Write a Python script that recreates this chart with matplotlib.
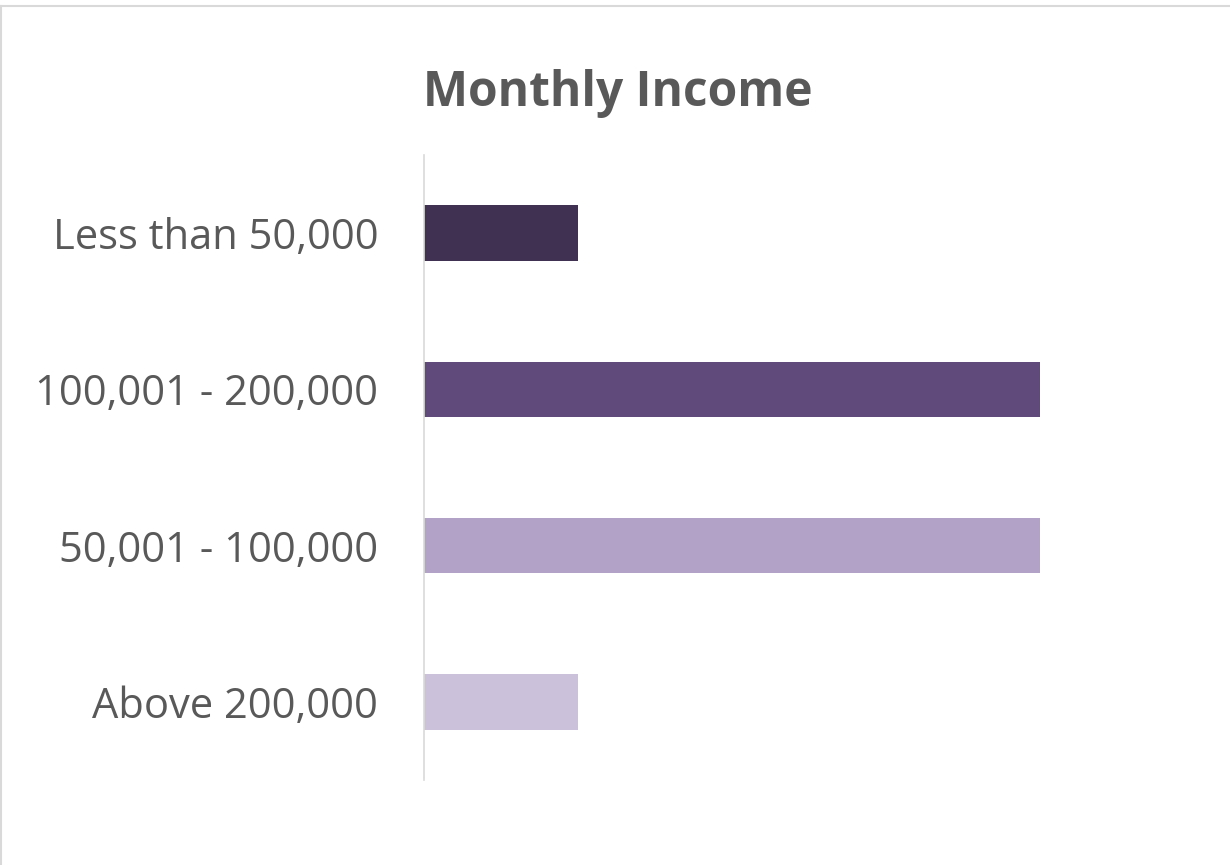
import matplotlib.pyplot as plt
from matplotlib.lines import Line2D

categories = ["Less than 50,000", "100,001 - 200,000", "50,001 - 100,000", "Above 200,000"]
values = [1, 4, 4, 1]
colors = ["#403152", "#604A7B", "#B3A2C7", "#CCC1DA"]

plt.rcParams['font.family'] = ['Open Sans', 'DejaVu Sans']

fig = plt.figure(figsize=(12.3, 8.65), dpi=100)
ax = fig.add_axes([0.3447, 0.0983, 0.626, 0.7225])

ypos = list(range(len(categories)))
ax.barh(ypos, values, height=0.355, color=colors)
ax.set_yticks(ypos)
ax.set_yticklabels(categories, fontsize=30, color="#595959")
ax.tick_params(axis='y', length=0, pad=33)
ax.set_xticks([])
ax.set_xlim(0, 5)
ax.set_ylim(3.5, -0.5)
for s in ['top', 'right', 'bottom']:
    ax.spines[s].set_visible(False)
ax.spines['left'].set_color("#D9D9D9")
ax.spines['left'].set_linewidth(1.2)

fig.text(0.502, 0.892, "Monthly Income", fontsize=34.5, fontweight='bold',
         color="#595959", ha='center', va='center')

# outer chart border (only top and left edges visible)
fig.add_artist(Line2D([0.001, 1], [0.993, 0.993], color="#D9D9D9", lw=1.5))
fig.add_artist(Line2D([0.001, 0.001], [0, 0.993], color="#D9D9D9", lw=1.5))

fig.savefig("out.png", dpi=100)
